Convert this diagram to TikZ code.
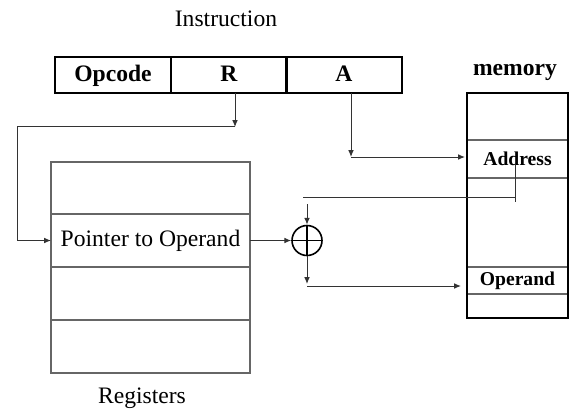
\documentclass[tikz,border=0pt]{standalone}
\usepackage{fontspec}
\setmainfont{Liberation Serif}
\usetikzlibrary{arrows.meta}
\begin{document}
\begin{tikzpicture}[x=0.5pt,y=-0.5pt,
  big/.style={font=\fontsize{11.8}{13}\selectfont},
  small/.style={font=\fontsize{9.8}{11}\selectfont\bfseries},
  field/.style={draw=black,line width=1pt,minimum width=58pt,minimum height=18pt,inner sep=0pt,outer sep=0pt,text height=1.45ex,text depth=0.1ex,font=\fontsize{11.8}{13}\selectfont\bfseries},
  regcell/.style={draw=black!60,line width=0.6pt,minimum width=99.5pt,inner sep=0pt,outer sep=0pt,big},
  memcell/.style={draw=black!60,line width=0.6pt,minimum width=50.5pt,inner sep=0pt,outer sep=0pt,small},
  conn/.style={draw=black!80,line width=0.5pt},
  arr/.style={conn,-{Latex[length=3.4pt,width=2.8pt]}}
]
\useasboundingbox (0,0) rectangle (588,419);
% Instruction
\node[big] (instr) at (226,19) {Instruction};
\node[field] (op) at (113,75) {Opcode};
\node[field] (R) at (229,75) {R};
\node[field] (A) at (344,75) {A};
% Registers
\node[regcell,minimum height=26pt] (reg1) at (150.5,188) {};
\node[regcell,minimum height=26.5pt] (reg2) at (150.5,240.5) {Pointer to Operand};
\node[regcell,minimum height=26.5pt] (reg3) at (150.5,293.5) {};
\node[regcell,minimum height=26.5pt] (reg4) at (150.5,346.5) {};
\node[big] (reglbl) at (142,398) {Registers};
% Memory
\node[font=\fontsize{11.8}{13}\selectfont\bfseries] (memlbl) at (515,72) {memory};
\node[memcell,minimum height=23.5pt] (mem1) at (517.5,116.5) {};
\node[memcell,minimum height=19pt] (mem2) at (517.5,159) {Address};
\node[memcell,minimum height=44.5pt] (mem3) at (517.5,222.5) {};
\node[memcell,minimum height=13.5pt] (mem4) at (517.5,280.5) {Operand};
\node[memcell,minimum height=12pt] (mem5) at (517.5,306) {};
\draw[line width=1pt] (mem1.north west) rectangle (mem5.south east);
% Adder
\node[circle,draw=black,line width=0.8pt,minimum size=15pt,inner sep=0pt,
  path picture={\draw[line width=0.8pt] (path picture bounding box.north) -- (path picture bounding box.south)
    (path picture bounding box.west) -- (path picture bounding box.east);}] (plus) at (307,240.5) {};
% Connectors
\coordinate (r1) at (235,127);
\draw[arr] (R.south -| r1) -- (r1);
\draw[arr] (r1 |- 0,126) -- (17,126) |- (reg2.west);
\coordinate (a1) at (351,157);
\draw[arr] (A.south -| a1) -- (a1);
\draw[arr] (a1) -- ([xshift=-1pt]a1 -| mem2.west);
\coordinate (ad1) at (515,165);
\coordinate (ad2) at (515,202);
\coordinate (ad3) at (303,197);
\draw[conn] (ad1) -- (ad2);
\draw[conn] (ad1 |- ad3) -- (ad3);
\coordinate (pin) at (307,204);
\draw[arr] (pin) -- (plus.north);
\draw[arr] (reg2.east) -- (plus.west);
\coordinate (p1) at (307,284);
\draw[arr] (plus.south) -- (p1);
\draw[arr] (p1 |- 0,286) -- ([xshift=-3pt]mem4.west |- 0,286);
\end{tikzpicture}
\end{document}
